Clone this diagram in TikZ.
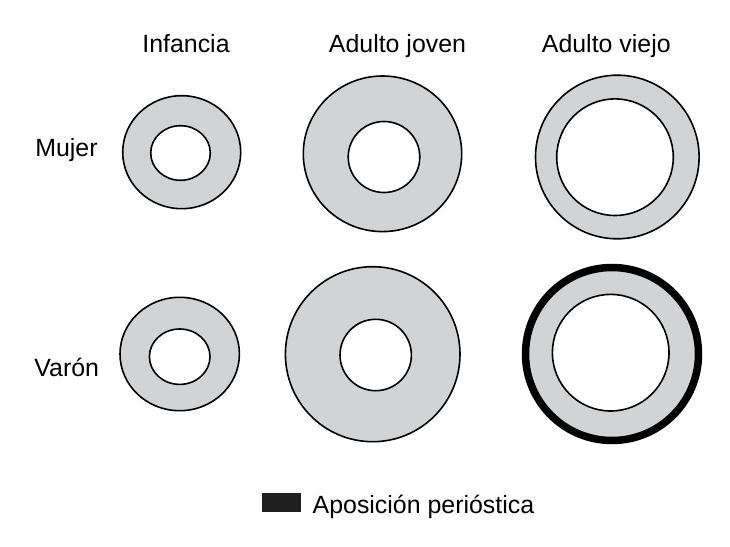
\documentclass[tikz,border=0pt]{standalone}
\usepackage{fontspec}
\setmainfont{Liberation Sans}
\definecolor{bonegray}{RGB}{209,211,212}
\begin{document}
\begin{tikzpicture}[x=1bp,y=-1bp,
  lbl/.style={anchor=base,inner sep=0pt,font=\fontsize{25}{30}\selectfont},
  cortex/.style={fill=bonegray,draw=black,line width=1.6bp},
  marrow/.style={fill=white,draw=black,line width=1.6bp},
  perio/.style={fill=bonegray,draw=black,line width=7.5bp}]
\useasboundingbox (0,0) rectangle (730,547);
% column and row labels
\node[lbl] (c1) at (186,52.3) {Infancia};
\node[lbl] (c2) at (397.5,52.3) {Adulto joven};
\node[lbl] (c3) at (606.3,52.3) {Adulto viejo};
\node[lbl] (r1) at (66.5,156.7) {Mujer};
\node[lbl] (r2) at (66.7,376.7) {Varón};
% Mujer row
\draw[cortex] (181.7,152.2) ellipse [x radius=59,y radius=56.5];
\draw[marrow] (180.5,153) ellipse [x radius=29.8,y radius=27.3];
\draw[cortex] (382.5,153.8) ellipse [x radius=79.2,y radius=77.8];
\draw[marrow] (384,157) ellipse [x radius=35.8,y radius=35.5];
\draw[cortex] (617.3,157) circle [radius=81.8];
\draw[marrow] (615,157.2) circle [radius=58.3];
% Varon row
\draw[cortex] (179.7,354) ellipse [x radius=59.7,y radius=56.7];
\draw[marrow] (179.7,356.7) ellipse [x radius=30.3,y radius=27.7];
\draw[cortex] (372.7,354.2) ellipse [x radius=87.3,y radius=87.5];
\draw[marrow] (375.7,355) circle [radius=35.7];
\draw[perio] (612,354) circle [radius=86.5];
\draw[marrow] (610.7,352.7) circle [radius=58.3];
% legend
\node[fill=black!88,inner sep=0pt,minimum width=38.4bp,minimum height=18.4bp] (key) at (281.5,502.5) {};
\node[anchor=base west,inner sep=0pt,font=\fontsize{25}{30}\selectfont] (keytext) at (312.5,513) {Aposición perióstica};
\end{tikzpicture}
\end{document}
